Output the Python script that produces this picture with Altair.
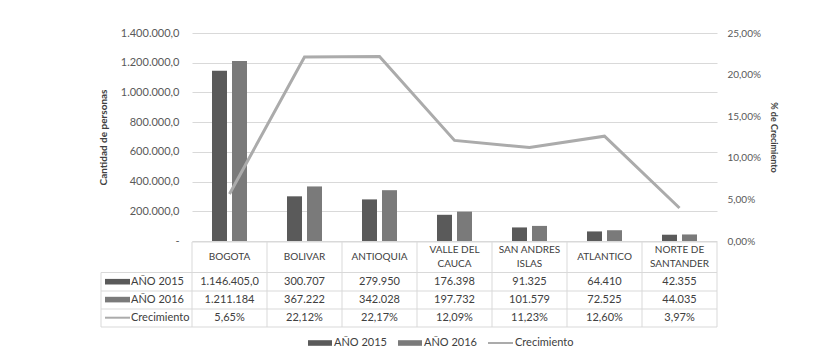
import altair as alt
import pandas as pd

# ---------------- data ----------------
categorias = ["BOGOTA", "BOLIVAR", "ANTIOQUIA", "VALLE DEL CAUCA",
              "SAN ANDRES ISLAS", "ATLANTICO", "NORTE DE SANTANDER"]
encabezados = ["BOGOTA", "BOLIVAR", "ANTIOQUIA", "VALLE DEL\nCAUCA",
               "SAN ANDRES\nISLAS", "ATLANTICO", "NORTE DE\nSANTANDER"]
anio_2015 = [1146405.0, 300707, 279950, 176398, 91325, 64410, 42355]
decimales_2015 = [1, 0, 0, 0, 0, 0, 0]
anio_2016 = [1211184, 367222, 342028, 197732, 101579, 72525, 44035]
crecimiento = [5.65, 22.12, 22.17, 12.09, 11.23, 12.60, 3.97]  # %
series = ["AÑO 2015", "AÑO 2016"]
serie_linea = "Crecimiento"
ticks_izq = [0, 200000, 400000, 600000, 800000, 1000000, 1200000, 1400000]
ticks_der = [0, 0.05, 0.10, 0.15, 0.20, 0.25]


def miles(v, dec):
    s = f"{v:,.{dec}f}"
    return s.replace(",", "_").replace(".", ",").replace("_", ".")


df_bars = pd.DataFrame({
    "cat": categorias * 2,
    "serie": [series[0]] * len(categorias) + [series[1]] * len(categorias),
    "valor": anio_2015 + anio_2016,
})
df_line = pd.DataFrame({"cat": categorias, "crec": [c / 100 for c in crecimiento]})
df_tabla = pd.DataFrame({
    "cat": categorias,
    "enc": encabezados,
    "t2015": [miles(v, d) for v, d in zip(anio_2015, decimales_2015)],
    "t2016": [miles(v, 0) for v in anio_2016],
    "tcrec": [f"{c:.2f}".replace(".", ",") + "%" for c in crecimiento],
})
dummy = pd.DataFrame({"a": [0]})

# ---------------- style ----------------
W, H = 525, 208
FONT = "Lato"
C_DARK = "#5a5a5a"
C_LIGHT = "#7a7a7a"
C_LINE = "#ababab"
C_GRID = "#d9d9d9"
C_TXT = "#404040"
C_AX = "#595959"

x_enc = alt.X("cat:N", sort=categorias,
              scale=alt.Scale(paddingInner=0, paddingOuter=0), axis=None)

left_label = ("datum.value == 0 ? '-' : (datum.value >= 1000000 ? "
              "format(floor(datum.value/1000000), 'd') + '.' + "
              "format(floor(datum.value/1000) % 1000, '03d') : "
              "format(floor(datum.value/1000), 'd')) + '.000,0'")

bars = alt.Chart(df_bars).mark_bar().encode(
    x=x_enc,
    xOffset=alt.XOffset("serie:N", sort=series,
                        scale=alt.Scale(paddingInner=0.25, paddingOuter=1.0)),
    y=alt.Y("valor:Q", scale=alt.Scale(domain=[0, 1400000], nice=False),
            axis=alt.Axis(values=ticks_izq, grid=True, gridColor=C_GRID,
                          domain=False, ticks=False, labelPadding=13,
                          labelExpr=left_label, labelFontSize=11,
                          labelColor=C_AX, labelFont=FONT,
                          title="Cantidad de personas", titleFont=FONT,
                          titleFontSize=10, titleFontWeight="bold",
                          titleColor=C_TXT, titleAngle=-90, titleX=-89,
                          titleY=H / 2, titleBaseline="middle")),
    color=alt.Color("serie:N", scale=alt.Scale(domain=series,
                                               range=[C_DARK, C_LIGHT]),
                    legend=None),
)

line = alt.Chart(df_line).mark_line(color=C_LINE, strokeWidth=3).encode(
    x=x_enc,
    y=alt.Y("crec:Q", scale=alt.Scale(domain=[0, 0.25], nice=False),
            axis=alt.Axis(orient="right", values=ticks_der, grid=False,
                          domain=False, ticks=False, labelPadding=10,
                          labelExpr="replace(format(datum.value, '.2%'), '.', ',')",
                          labelFontSize=10, labelColor=C_AX, labelFont=FONT,
                          title="% de Crecimiento", titleFont=FONT,
                          titleFontSize=9, titleFontWeight="bold",
                          titleColor=C_TXT, titleAngle=90, titleX=56,
                          titleY=H / 2, titleBaseline="middle")),
)

# ---------------- table ----------------
y_head = 224
y_r1, y_r2, y_r3 = 248.7, 266.6, 284.7
row_lines = [239.5, 258, 276, 294]

vlines = alt.Chart(df_tabla).mark_rule(color=C_GRID).encode(
    x=alt.X("cat:N", sort=categorias, bandPosition=0,
            scale=alt.Scale(paddingInner=0, paddingOuter=0), axis=None),
    y=alt.value(H + 1), y2=alt.value(294),
)
layers = [bars, line, vlines]
layers.append(alt.Chart(dummy).mark_rule(color=C_GRID).encode(
    x=alt.value(W), y=alt.value(H + 1), y2=alt.value(294)))
layers.append(alt.Chart(dummy).mark_rule(color=C_GRID).encode(
    x=alt.value(-91), y=alt.value(row_lines[0]), y2=alt.value(294)))
layers.append(alt.Chart(dummy).mark_rule(color=C_GRID).encode(
    x=alt.value(0), x2=alt.value(W), y=alt.value(H + 1)))
for ry in row_lines:
    layers.append(alt.Chart(dummy).mark_rule(color=C_GRID).encode(
        x=alt.value(-91), x2=alt.value(W), y=alt.value(ry)))

LH = 13.5
# single-line headers
layers.append(alt.Chart(df_tabla).transform_filter(
    "indexof(datum.enc, '\\n') < 0").mark_text(
    font=FONT, fontSize=10, color=C_TXT, baseline="middle").encode(
    x=x_enc, y=alt.value(y_head), text="enc:N"))
# two-line headers
layers.append(alt.Chart(df_tabla).transform_filter(
    "indexof(datum.enc, '\\n') >= 0").mark_text(
    font=FONT, fontSize=10, color=C_TXT, lineBreak="\n", lineHeight=LH,
    baseline="middle").encode(x=x_enc, y=alt.value(y_head - LH / 2),
                              text="enc:N"))
for col, ry in [("t2015", y_r1), ("t2016", y_r2), ("tcrec", y_r3)]:
    layers.append(alt.Chart(df_tabla).mark_text(
        font=FONT, fontSize=11, color=C_TXT, baseline="middle").encode(
        x=x_enc, y=alt.value(ry), text=f"{col}:N"))

# table row legend keys
for lab, ry, col in [(series[0], y_r1, C_DARK), (series[1], y_r2, C_LIGHT)]:
    layers.append(alt.Chart(dummy).mark_rect(color=col).encode(
        x=alt.value(-87), x2=alt.value(-62),
        y=alt.value(ry - 2.8), y2=alt.value(ry + 2.8)))
    layers.append(alt.Chart(dummy).mark_text(
        text=lab, font=FONT, fontSize=11, color=C_TXT, align="left",
        baseline="middle").encode(x=alt.value(-61), y=alt.value(ry)))
layers.append(alt.Chart(dummy).mark_rule(color=C_LINE, strokeWidth=2).encode(
    x=alt.value(-87), x2=alt.value(-62), y=alt.value(y_r3)))
layers.append(alt.Chart(dummy).mark_text(
    text=serie_linea, font=FONT, fontSize=11, color=C_TXT, align="left",
    baseline="middle").encode(x=alt.value(-61), y=alt.value(y_r3)))

# bottom legend
y_leg = 310
for lab, x0, col in [(series[0], 116, C_DARK), (series[1], 206, C_LIGHT)]:
    layers.append(alt.Chart(dummy).mark_rect(color=col).encode(
        x=alt.value(x0), x2=alt.value(x0 + 24),
        y=alt.value(y_leg - 2.8), y2=alt.value(y_leg + 2.8)))
    layers.append(alt.Chart(dummy).mark_text(
        text=lab, font=FONT, fontSize=11, color=C_TXT, align="left",
        baseline="middle").encode(x=alt.value(x0 + 26), y=alt.value(y_leg)))
layers.append(alt.Chart(dummy).mark_rule(color=C_LINE, strokeWidth=2).encode(
    x=alt.value(296), x2=alt.value(321), y=alt.value(y_leg)))
layers.append(alt.Chart(dummy).mark_text(
    text=serie_linea, font=FONT, fontSize=11, color=C_TXT, align="left",
    baseline="middle").encode(x=alt.value(323), y=alt.value(y_leg)))

chart = alt.layer(*layers).resolve_scale(y="independent").properties(
    width=W, height=H,
    autosize=alt.AutoSizeParams(type="none"),
    padding={"left": 192, "top": 33, "right": 831 - 192 - W,
             "bottom": 356 - 33 - H},
    background="white",
).configure_view(stroke=None)

chart.save("out.html", embed_options={"renderer": "svg", "actions": False})
